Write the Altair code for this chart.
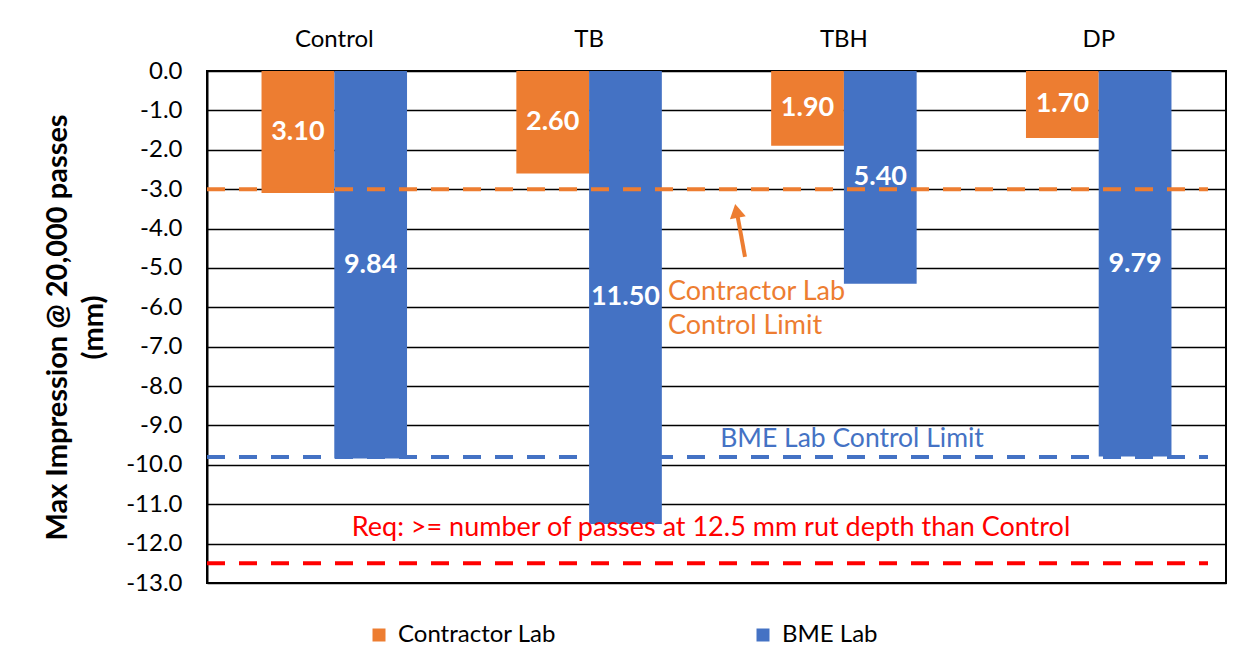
import altair as alt
import pandas as pd

categories = ["Control", "TB", "TBH", "DP"]
labs = ["Contractor Lab", "BME Lab"]
contractor = [3.10, 2.60, 1.90, 1.70]
bme = [9.84, 11.50, 5.40, 9.79]

limit_values = [-3.0, -9.8, -12.5]
limit_names = ["Contractor Lab Control Limit", "BME Lab Control Limit", "Req"]

ORANGE = "#ED7D31"
BLUE = "#4472C4"
RED = "#FF0000"
FONT = "Lato"
limit_colors = [ORANGE, BLUE, RED]

rows = []
for c, a, b in zip(categories, contractor, bme):
    rows.append({"cat": c, "lab": labs[0], "depth": a})
    rows.append({"cat": c, "lab": labs[1], "depth": b})
df = pd.DataFrame(rows)
df["neg"] = -df["depth"]
df["mid"] = -df["depth"] / 2
df["txt"] = df["depth"].map(lambda v: f"{v:.2f}")

lim = pd.DataFrame({"y": limit_values, "name": limit_names, "col": limit_colors})

W, H = 1019, 512

yscale = alt.Scale(domain=[-13, 0], nice=False, zero=False)
xenc = alt.X("cat:N", sort=categories,
             scale=alt.Scale(paddingInner=0.429, paddingOuter=0.214),
             axis=alt.Axis(orient="top", title=None, domain=False, ticks=False,
                           labelAngle=0, labelFontSize=24, labelFont=FONT,
                           labelColor="#000", labelPadding=20))
xoff = alt.XOffset("lab:N", sort=labs, scale=alt.Scale(paddingInner=0, paddingOuter=0))

bars = alt.Chart(df).mark_bar().encode(
    x=xenc,
    xOffset=xoff,
    y=alt.Y("neg:Q", scale=yscale,
            axis=alt.Axis(values=list(range(0, -14, -1)), tickCount=30,
                          labelExpr="(datum.value < 0 ? '-' : '') + format(abs(datum.value), '.1f')",
                          labelOverlap=False,
                          grid=True, gridColor="#000", gridWidth=1.5,
                          domain=True, domainColor="#000", domainWidth=2,
                          ticks=False, labelPadding=25, labelFontSize=24,
                          labelFont=FONT, labelColor="#000",
                          title=["Max Impression @ 20,000 passes", "(mm)"],
                          titleFont=FONT, titleFontSize=29, titleFontWeight="bold",
                          titleColor="#000", titleAngle=270, titleBaseline="top",
                          titleX=-164, titleY=H / 2, titleLineHeight=36)),
    y2=alt.datum(0),
    color=alt.Color("lab:N", sort=labs,
                    scale=alt.Scale(domain=labs, range=[ORANGE, BLUE]),
                    legend=alt.Legend(title=None, orient="none", direction="horizontal",
                                      legendX=160, legendY=552, columns=2,
                                      columnPadding=195, symbolType="square",
                                      symbolSize=169, symbolStrokeWidth=0,
                                      labelFontSize=24, labelFont=FONT, labelLimit=300,
                                      labelColor="#000", labelOffset=7, padding=0)),
)

labels = alt.Chart(df).mark_text(color="white", fontWeight="bold", fontSize=27, font=FONT).encode(
    x=alt.X("cat:N", sort=categories),
    xOffset=alt.XOffset("lab:N", sort=labs),
    y=alt.Y("mid:Q", scale=yscale),
    text="txt:N",
)

rules = alt.Chart(lim).mark_rule(strokeWidth=4, strokeDash=[18, 14]).encode(
    y=alt.Y("y:Q", scale=yscale),
    x=alt.value(0),
    x2=alt.value(1001),
    color=alt.Color("col:N", scale=None, legend=None),
)

ann_text = ["Contractor Lab", "Control Limit"]
ann_y = [-5.6, -6.47]
ann = alt.Chart(pd.DataFrame({"t": ann_text, "y": ann_y})).mark_text(
    color=ORANGE, fontSize=27, font=FONT, align="left", baseline="middle").encode(
    x=alt.value(461), y=alt.Y("y:Q", scale=yscale), text="t:N")

bme_note = alt.Chart(pd.DataFrame({"t": ["BME Lab Control Limit"], "y": [-9.35]})).mark_text(
    color=BLUE, fontSize=26.5, font=FONT, align="center", baseline="middle").encode(
    x=alt.value(645), y=alt.Y("y:Q", scale=yscale), text="t:N")

req_note = alt.Chart(pd.DataFrame({"t": ["Req: >= number of passes at 12.5 mm rut depth than Control"],
                                   "y": [-11.6]})).mark_text(
    color=RED, fontSize=27, font=FONT, align="center", baseline="middle").encode(
    x=alt.value(504), y=alt.Y("y:Q", scale=yscale), text="t:N")

arrow_tail = [-4.72]
arrow_head = [-3.6]
arrow_line = alt.Chart(pd.DataFrame({"y": arrow_tail, "y2": arrow_head})).mark_rule(
    color=ORANGE, strokeWidth=4).encode(
    x=alt.value(538), x2=alt.value(530),
    y=alt.Y("y:Q", scale=yscale), y2="y2:Q")

arrow_tip = alt.Chart(pd.DataFrame({"y": [-3.55]})).mark_point(
    shape="triangle-up", filled=True, color=ORANGE, opacity=1, size=260, angle=349).encode(
    x=alt.value(529.5), y=alt.Y("y:Q", scale=yscale))

chart = alt.layer(bars, labels, rules, ann, bme_note, req_note, arrow_line, arrow_tip).properties(
    width=W, height=H,
    autosize=alt.AutoSizeParams(type="none"),
    padding={"left": 199, "top": 63, "right": 8, "bottom": 80},
    background="white",
).configure_view(stroke="#000", strokeWidth=2).configure_axis(gridOpacity=1)

chart.save("out.html", embed_options={"renderer": "svg", "actions": False})
